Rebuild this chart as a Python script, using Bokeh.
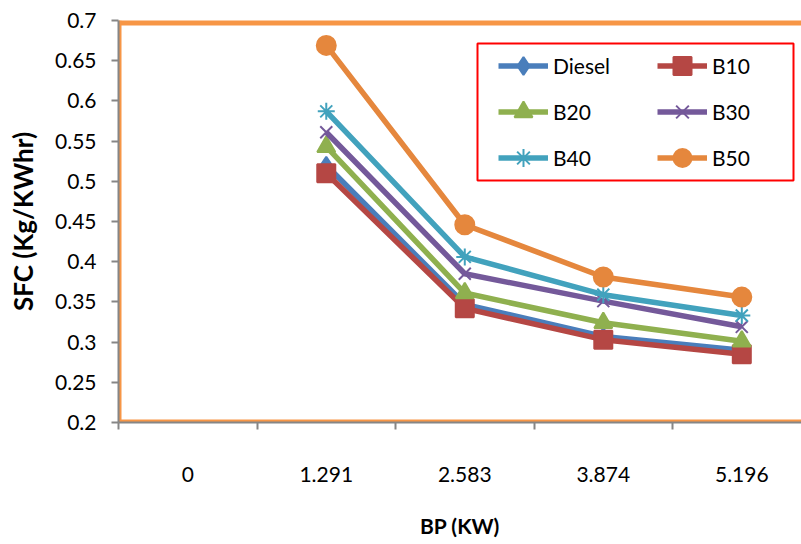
from bokeh.plotting import figure
from bokeh.models import FixedTicker, Span, Legend, LegendItem, BoxAnnotation, Range1d
from bokeh.embed import file_html
from bokeh.resources import INLINE

# Brake power categories (KW) shown along the x axis
categories = ["0", "1.291", "2.583", "3.874", "5.196"]
# Loads at which SFC was measured
loads = ["1.291", "2.583", "3.874", "5.196"]

# Specific fuel consumption (Kg/KWhr) for each fuel blend
diesel = [0.520, 0.347, 0.307, 0.290]
b10 = [0.510, 0.342, 0.303, 0.285]
b20 = [0.543, 0.361, 0.324, 0.301]
b30 = [0.561, 0.385, 0.351, 0.319]
b40 = [0.587, 0.406, 0.359, 0.333]
b50 = [0.669, 0.446, 0.381, 0.356]

# Y axis ticks and labels
y_ticks = [0.2, 0.25, 0.3, 0.35, 0.4, 0.45, 0.5, 0.55, 0.6, 0.65, 0.7]
y_tick_labels = ["0.2", "0.25", "0.3", "0.35", "0.4", "0.45", "0.5", "0.55", "0.6", "0.65", "0.7"]

series_names = ["Diesel", "B10", "B20", "B30", "B40", "B50"]
series_values = [diesel, b10, b20, b30, b40, b50]

# Styling per series
styles = {
    "Diesel": dict(color="#4A7EBB", marker="diamond", size=17),
    "B10": dict(color="#B54744", marker="square", size=18),
    "B20": dict(color="#8FB04F", marker="triangle", size=18),
    "B30": dict(color="#74599A", marker="x", size=17),
    "B40": dict(color="#42A2BD", marker="asterisk", size=17),
    "B50": dict(color="#E5873D", marker="circle", size=19),
}

FONT = "Lato"
ORANGE = "#F79646"
GREY = "#868686"

xs = [categories.index(c) for c in loads]

p = figure(
    width=801, height=544,
    x_range=Range1d(-0.5, 4.431), y_range=Range1d(0.2, 0.7),
    output_backend="svg", toolbar_location=None,
    min_border_left=118, min_border_right=0, min_border_top=20, min_border_bottom=122,
    background_fill_color="white", border_fill_color="white",
)
p.outline_line_color = None
p.grid.visible = False

# Plot-area border (orange); spans are clipped to the frame, so only the inner half shows
p.add_layout(Span(location=0.7, dimension="width", line_color=ORANGE, line_width=10, level="underlay"))
p.add_layout(Span(location=0.2, dimension="width", line_color=ORANGE, line_width=6, level="underlay"))
p.add_layout(Span(location=-0.5, dimension="height", line_color=ORANGE, line_width=6, level="underlay"))

items = []
for name, vals in zip(series_names, series_values):
    st = styles[name]
    ln = p.line(xs, vals, line_color=st["color"], line_width=5.5, line_join="round")
    pts = p.scatter(xs, vals, marker=st["marker"], size=st["size"],
                    fill_color=st["color"], line_color=st["color"], line_width=2)
    items.append(LegendItem(label=name, renderers=[ln, pts]))

# Y axis
yax = p.yaxis[0]
yax.ticker = FixedTicker(ticks=y_ticks)
yax.major_label_overrides = {t: l for t, l in zip(y_ticks, y_tick_labels)}
yax.minor_tick_line_color = None
yax.major_tick_in = 0
yax.major_tick_out = 7
yax.major_tick_line_color = GREY
yax.major_tick_line_width = 2
yax.axis_line_color = GREY
yax.axis_line_width = 2
yax.major_label_standoff = 15
yax.major_label_text_font = FONT
yax.major_label_text_font_size = "21px"
yax.major_label_text_color = "black"
yax.axis_label = "SFC (Kg/KWhr)"
yax.axis_label_text_font = FONT
yax.axis_label_text_font_style = "bold"
yax.axis_label_text_font_size = "26px"
yax.axis_label_text_color = "black"
yax.axis_label_standoff = 13

# X axis: labels centred on categories, tick marks on category boundaries
xax = p.xaxis[0]
xax.ticker = FixedTicker(ticks=list(range(len(categories))),
                         minor_ticks=[i - 0.5 for i in range(len(categories) + 1)])
xax.major_label_overrides = {i: c for i, c in enumerate(categories)}
xax.major_tick_line_color = None
xax.major_tick_in = 0
xax.major_tick_out = 0
xax.minor_tick_in = 0
xax.minor_tick_out = 7
xax.minor_tick_line_color = GREY
xax.minor_tick_line_width = 2
xax.axis_line_color = GREY
xax.axis_line_width = 2
xax.major_label_standoff = 37
xax.major_label_text_font = FONT
xax.major_label_text_font_size = "21px"
xax.major_label_text_color = "black"
xax.axis_label = "BP (KW)"
xax.axis_label_text_font = FONT
xax.axis_label_text_font_style = "bold"
xax.axis_label_text_font_size = "21px"
xax.axis_label_text_color = "black"
xax.axis_label_standoff = 28

legend = Legend(
    items=items, location=(380, 242), orientation="horizontal", ncols=2,
    glyph_width=50, glyph_height=45, spacing=1, padding=0,
    label_standoff=5, label_width=103,
    label_text_font=FONT, label_text_font_size="21px", label_text_color="black",
    border_line_color=None, background_fill_alpha=0,
)
p.add_layout(legend)

# Red frame around the legend
p.add_layout(BoxAnnotation(left=477, right=793, top=43, bottom=180,
                           left_units="canvas", right_units="canvas",
                           top_units="canvas", bottom_units="canvas",
                           fill_alpha=0, line_color="#FF0000", line_width=2,
                           line_alpha=1))

open("out.html", "w").write(file_html(p, INLINE))
